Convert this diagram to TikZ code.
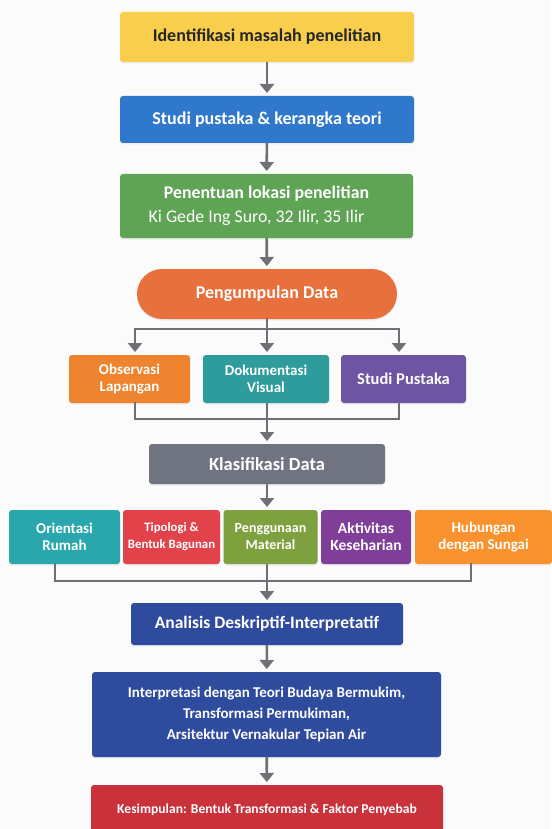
\documentclass[tikz,border=0pt]{standalone}
\usepackage{fontspec}
\setmainfont{Carlito}
\usepackage{tikz}
\usetikzlibrary{arrows.meta,shadows}

\begin{document}
\begin{tikzpicture}[x=1pt,y=-1pt,
	box/.style={inner sep=0, outer sep=0, rounded corners=3pt, align=center, text=white, font=\bfseries\fontsize{18pt}{21pt}\selectfont, drop shadow={opacity=0.12, shadow xshift=0pt, shadow yshift=-1.5pt}},
	smallbox/.style={box, font=\bfseries\fontsize{15pt}{17pt}\selectfont},
	wire/.style={line width=2.6pt, custcol_gray, line cap=rect},
	arr/.style={wire, line cap=butt, -{Triangle[width=14pt,length=9pt]}, shorten >=3pt}]
					\definecolor{custcol_bg}{RGB}{251, 251, 251}
					\definecolor{custcol_gray}{RGB}{110, 112, 118}
					\definecolor{custcol_yellow}{RGB}{249, 206, 76}
					\definecolor{custcol_blue}{RGB}{47, 120, 203}
					\definecolor{custcol_green}{RGB}{95, 163, 85}
					\definecolor{custcol_pill}{RGB}{232, 112, 60}
					\definecolor{custcol_obs}{RGB}{238, 132, 48}
					\definecolor{custcol_dok}{RGB}{46, 156, 156}
					\definecolor{custcol_pus}{RGB}{110, 85, 163}
					\definecolor{custcol_klas}{RGB}{112, 116, 128}
					\definecolor{custcol_ori}{RGB}{42, 167, 172}
					\definecolor{custcol_tipo}{RGB}{226, 67, 75}
					\definecolor{custcol_mat}{RGB}{127, 160, 62}
					\definecolor{custcol_akt}{RGB}{127, 63, 153}
					\definecolor{custcol_hub}{RGB}{247, 146, 47}
					\definecolor{custcol_navy}{RGB}{47, 75, 158}
					\definecolor{custcol_red}{RGB}{201, 49, 59}
					\fill [custcol_bg] (0.0,0.0) rectangle (551.0,829.0) ;
					\useasboundingbox (0.0,0.0) rectangle (551.0,829.0) ;
					% tahap utama
					\node [box, fill=custcol_yellow, text=black!85, minimum width=294, minimum height=50] (ident) at (267.0,37.0) {Identifikasi masalah penelitian};
					\node [box, fill=custcol_blue, minimum width=294, minimum height=47] (studi) at (267.0,119.5) {Studi pustaka \& kerangka teori};
					\node [box, fill=custcol_green, minimum width=293, minimum height=64, font=\bfseries\fontsize{17.8pt}{24pt}\selectfont] (lokasi) at (266.5,206.0) {Penentuan lokasi penelitian\\{\mdseries Ki Gede Ing Suro, 32 Ilir, 35 Ilir}\hspace*{20pt}};
					\node [box, fill=custcol_pill, rounded corners=25pt, minimum width=260, minimum height=50] (kumpul) at (267.0,294.0) {Pengumpulan Data};
					\node [smallbox, fill=custcol_obs, minimum width=121, minimum height=48] (obs) at (129.5,379.0) {Observasi\\Lapangan};
					\node [smallbox, fill=custcol_dok, minimum width=126, minimum height=48] (dok) at (266.0,379.0) {Dokumentasi\\Visual};
					\node [smallbox, fill=custcol_pus, minimum width=125, minimum height=48, font=\bfseries\fontsize{16.5pt}{17pt}\selectfont] (pus) at (403.5,379.0) {Studi Pustaka};
					\node [box, fill=custcol_klas, minimum width=236, minimum height=40, font=\bfseries\fontsize{18.5pt}{21pt}\selectfont] (klas) at (267.0,464.0) {Klasifikasi Data};
					\node [smallbox, fill=custcol_ori, minimum width=111, minimum height=54] (ori) at (64.5,537.0) {Orientasi\\Rumah};
					\node [smallbox, fill=custcol_tipo, minimum width=97, minimum height=54, font=\bfseries\fontsize{12.8pt}{17pt}\selectfont] (tipo) at (171.5,537.0) {Tipologi \&\\Bentuk Bagunan};
					\node [smallbox, fill=custcol_mat, minimum width=94, minimum height=54, font=\bfseries\fontsize{14pt}{17pt}\selectfont] (mat) at (270.5,537.0) {Penggunaan\\Material};
					\node [smallbox, fill=custcol_akt, minimum width=90, minimum height=54, font=\bfseries\fontsize{15.5pt}{17pt}\selectfont] (akt) at (366.0,537.0) {Aktivitas\\Keseharian};
					\node [smallbox, fill=custcol_hub, minimum width=137, minimum height=54] (hub) at (483.5,537.0) {Hubungan\\dengan Sungai};
					\node [box, fill=custcol_navy, minimum width=272, minimum height=42, font=\bfseries\fontsize{17.5pt}{21pt}\selectfont] (anal) at (267.0,624.0) {Analisis Deskriptif-Interpretatif};
					\node [box, fill=custcol_navy, minimum width=349, minimum height=85, font=\bfseries\fontsize{15pt}{21pt}\selectfont] (interp) at (266.5,714.5) {Interpretasi dengan Teori Budaya Bermukim,\\Transformasi Permukiman,\\Arsitektur Vernakular Tepian Air};
					\node [box, fill=custcol_red, minimum width=352, minimum height=50, font=\bfseries\fontsize{13.6pt}{17pt}\selectfont] (kesim) at (267.0,810.0) {Kesimpulan: Bentuk Transformasi \& Faktor Penyebab};
					% titik cabang
					\coordinate (splitL) at (135.0,329.0);
					\coordinate (splitC) at (267.0,329.0);
					\coordinate (splitR) at (399.0,329.0);
					\coordinate (joinL) at (135.0,419.0);
					\coordinate (joinC) at (267.0,419.0);
					\coordinate (joinR) at (399.0,419.0);
					\coordinate (mergeL) at (55.0,581.0);
					\coordinate (mergeC) at (267.0,581.0);
					\coordinate (mergeR) at (471.0,581.0);
					\draw [arr] (ident) -- (studi) ;
					\draw [arr] (studi) -- (lokasi) ;
					\draw [arr] (lokasi) -- (kumpul) ;
					\draw [wire] (kumpul) -- (splitC) ;
					\draw [wire] (splitL) -- (splitR) ;
					\draw [arr] (splitL) -- (splitL |- obs.north) ;
					\draw [arr] (splitC) -- (splitC |- dok.north) ;
					\draw [arr] (splitR) -- (splitR |- pus.north) ;
					\draw [wire] (joinL |- obs.south) -- (joinL) -- (joinR) -- (joinR |- pus.south) ;
					\draw [arr] (joinC |- dok.south) -- (klas) ;
					\draw [arr] (klas) -- (klas |- ori.north) ;
					\draw [wire] (mergeL |- ori.south) -- (mergeL) -- (mergeR) -- (mergeR |- hub.south) ;
					\draw [arr] (mergeC |- mat.south) -- (anal) ;
					\draw [arr] (anal) -- (interp) ;
					\draw [arr] (interp) -- (kesim) ;
				\end{tikzpicture}
\end{document}
